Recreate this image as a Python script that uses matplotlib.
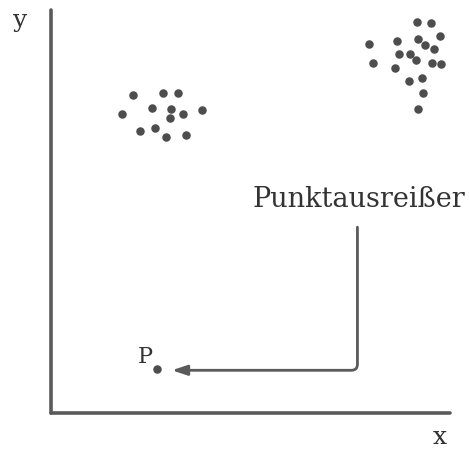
import matplotlib.pyplot as plt

# cluster 1 (left)
x1 = [2.06, 2.81, 3.18, 2.54, 3.00, 3.78, 1.77, 3.32, 2.98, 2.60, 2.23, 2.88, 3.38]
y1 = [7.90, 7.93, 7.93, 7.58, 7.54, 7.53, 7.41, 7.41, 7.31, 7.08, 7.00, 6.84, 6.89]

# cluster 2 (right)
x2 = [9.18, 9.53, 7.96, 8.68, 9.21, 9.74, 9.38, 9.60, 8.71, 9.00, 9.14, 8.08, 8.61,
      9.56, 9.78, 8.98, 9.31, 9.32, 9.21]
y2 = [9.70, 9.68, 9.16, 9.23, 9.29, 9.35, 9.13, 9.04, 8.90, 8.91, 8.76, 8.68, 8.56,
      8.68, 8.66, 8.24, 8.32, 7.93, 7.55]

# outlier P
px, py = 2.66, 1.09
label_txt = "Punktausreißer"
arrow_start = (7.68, 4.61)
arrow_end = (3.03, 1.06)

dot_col = "#4d4d4d"
ax_col = "#5a5a5a"
txt_col = "#333333"
fnt = "DejaVu Serif"

fig = plt.figure(figsize=(4.69, 4.5), dpi=100)
ax = fig.add_axes([51 / 469, 37 / 450, 399 / 469, 403 / 450])
ax.set_xlim(0, 10)
ax.set_ylim(0, 10)

ax.scatter(x1, y1, s=26, color=dot_col, zorder=3)
ax.scatter(x2, y2, s=26, color=dot_col, zorder=3)
ax.scatter([px], [py], s=26, color=dot_col, zorder=3)

ax.text(2.36, 1.39, "P", fontsize=16, family=fnt, color=txt_col,
        ha="center", va="center")
ax.text(7.71, 5.11, label_txt, fontsize=19.5, family=fnt, color=txt_col,
        ha="center", va="baseline")

ax.annotate("", xy=arrow_end, xytext=arrow_start,
            arrowprops=dict(arrowstyle="-|>,head_length=0.9,head_width=0.3",
                            connectionstyle="angle,angleA=-90,angleB=0,rad=6",
                            color=ax_col, lw=2, shrinkA=0, shrinkB=0))

for s in ["top", "right"]:
    ax.spines[s].set_visible(False)
for s in ["left", "bottom"]:
    ax.spines[s].set_color(ax_col)
    ax.spines[s].set_linewidth(2.6)
    ax.spines[s].set_capstyle("round")
ax.set_xticks([])
ax.set_yticks([])

fig.text(20 / 469, 1 - 20 / 450, "y", fontsize=18, family=fnt, color=txt_col,
         ha="center", va="center")
fig.text(440 / 469, 1 - 437 / 450, "x", fontsize=18, family=fnt, color=txt_col,
         ha="center", va="center")

fig.savefig("out.png", dpi=100)
